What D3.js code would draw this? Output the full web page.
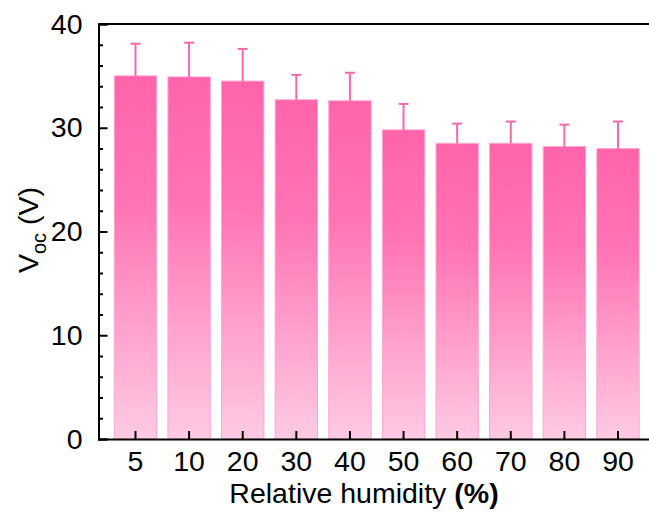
<!DOCTYPE html>
<html><head><meta charset="utf-8">
<script src="https://cdn.jsdelivr.net/npm/d3@7"></script>
<style>body{margin:0;background:#fff;} text{font-family:Arial,"Liberation Sans",sans-serif;}</style>
</head><body>
<svg id="c" width="649" height="520"></svg>
<script>
const categories = ["5","10","20","30","40","50","60","70","80","90"];
const values = [35.0, 34.9, 34.5, 32.7, 32.6, 29.8, 28.5, 28.5, 28.2, 28.0];
const errors = [3.1, 3.3, 3.1, 2.4, 2.7, 2.5, 1.9, 2.1, 2.1, 2.6];
const yTicks = [0, 10, 20, 30, 40];
const yMinorTicks = [2,4,6,8,12,14,16,18,22,24,26,28,32,34,36,38];

const svg = d3.select("#c");
const L = 98.5, R = 655, T = 24, B = 439;
const x = d3.scaleBand().domain(categories).range([L, R]).paddingInner(0.21).paddingOuter(0.295);
const y = d3.scaleLinear().domain([0, 40]).range([B, T]);

const defs = svg.append("defs");
const g = defs.append("linearGradient").attr("id","grad").attr("x1",0).attr("y1",0).attr("x2",0).attr("y2",1);
g.append("stop").attr("offset","0%").attr("stop-color","#ff64aa");
g.append("stop").attr("offset","35%").attr("stop-color","#ff74b4");
g.append("stop").attr("offset","100%").attr("stop-color","#ffcae4");

// bars
svg.append("g").selectAll("rect").data(values).join("rect")
  .attr("x",(d,i)=>x(categories[i]))
  .attr("y",d=>y(d))
  .attr("width",x.bandwidth())
  .attr("height",d=>y(0)-y(d))
  .attr("fill","url(#grad)")
  .attr("stroke","#ffa6d0").attr("stroke-width",1);

// error bars (upper only)
const eb = svg.append("g").attr("stroke","#f26aae").attr("stroke-width",2);
values.forEach((v,i)=>{
  const cx = x(categories[i]) + x.bandwidth()/2;
  eb.append("line").attr("x1",cx).attr("x2",cx).attr("y1",y(v)).attr("y2",y(v+errors[i]));
  eb.append("line").attr("x1",cx-5).attr("x2",cx+5).attr("y1",y(v+errors[i])).attr("y2",y(v+errors[i]));
});

// axes
const yAxis = svg.append("g").attr("transform",`translate(${L},0)`)
  .call(d3.axisLeft(y).tickValues(yTicks).tickSize(-9).tickPadding(16).tickFormat(d3.format("d")));
svg.append("g").attr("transform",`translate(${L},0)`)
  .call(d3.axisLeft(y).tickValues(yMinorTicks).tickSize(-4.5).tickFormat(""))
  .call(a=>a.select(".domain").remove());
const xAxis = svg.append("g").attr("transform",`translate(0,${B})`)
  .call(d3.axisBottom(x).tickSize(-8).tickPadding(12));
svg.selectAll(".tick line").attr("stroke","#000").attr("stroke-width",2);
svg.selectAll(".domain").attr("stroke","#000").attr("stroke-width",2);
svg.selectAll(".tick text").attr("font-size",28.5).attr("fill","#000");
// frame top/right
svg.append("line").attr("x1",L).attr("x2",R).attr("y1",T).attr("y2",T).attr("stroke","#000").attr("stroke-width",2);
svg.append("line").attr("x1",R).attr("x2",R).attr("y1",T).attr("y2",B).attr("stroke","#000").attr("stroke-width",2);

// x title
const xt = svg.append("text").attr("x",364).attr("y",503).attr("text-anchor","middle").attr("font-size",28.5).attr("fill","#000");
xt.append("tspan").text("Relative humidity ");
xt.append("tspan").attr("font-weight","bold").text("(%)");

// y title
const yt = svg.append("text").attr("transform","translate(38,230) rotate(-90)").attr("text-anchor","middle").attr("font-size",28.5).attr("fill","#000");
yt.append("tspan").text("V");
yt.append("tspan").attr("font-size",20).attr("dy",8).text("oc");
yt.append("tspan").attr("dy",-8).text(" (V)");
</script>
</body></html>
